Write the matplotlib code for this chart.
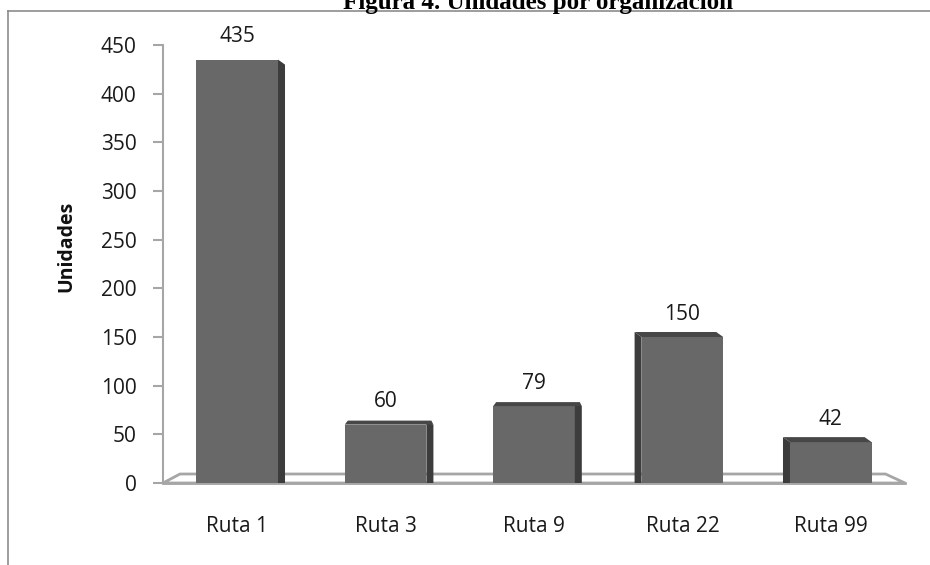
import matplotlib
matplotlib.use("Agg")
import matplotlib.pyplot as plt
from matplotlib.patches import Polygon
from matplotlib.lines import Line2D

categories = ["Ruta 1", "Ruta 3", "Ruta 9", "Ruta 22", "Ruta 99"]
values = [435, 60, 79, 150, 42]
yticks = [0, 50, 100, 150, 200, 250, 300, 350, 400, 450]
title = "Figura 4. Unidades por organización"
ylabel = "Unidades"

W, H = 930, 565
fig = plt.figure(figsize=(W / 100, H / 100), dpi=100)
font = "Open Sans"

# axes placement in pixels
ax_l, ax_r, ax_t, ax_b = 163, 905, 45, 483
ax = fig.add_axes([ax_l / W, (H - ax_b) / H, (ax_r - ax_l) / W, (ax_b - ax_t) / H])
ax.set_xlim(-0.5, len(categories) - 0.5)
ax.set_ylim(0, 450)

pxx = (len(categories)) / (ax_r - ax_l)   # data units per pixel (x)
pxy = 450 / (ax_b - ax_t)                 # data units per pixel (y)

front = "#686868"
side = "#3c3c3c"
topc = "#474747"
grey = "#a6a6a6"
txt = "#1a1a1a"

# floor (3D base plane)
x0, x1 = -0.5, len(categories) - 0.5
fx = 17 * pxx
fy = 9 * pxy
floor = Polygon([(x0, 0), (x0 + fx, fy), (x1 - fx * 1.15, fy), (x1, 0)],
                closed=True, facecolor="white", edgecolor=grey, lw=2, zorder=1,
                clip_on=False)
ax.add_patch(floor)

bw = 0.55
bars = ax.bar(range(len(categories)), values, width=bw, color=front,
              edgecolor="none", zorder=3)

dx = 7 * pxx
dy = 5 * pxy
for i, (b, v) in enumerate(zip(bars, values)):
    l = b.get_x()
    r = l + b.get_width()
    if i == 0:
        sidep = Polygon([(r, v), (r + dx, v - dy), (r + dx, 0), (r, 0)],
                        closed=True, facecolor=side, edgecolor="none", zorder=3)
        ax.add_patch(sidep)
    elif i <= 2:
        sidep = Polygon([(r, v + 2 * pxy), (r + dx, v), (r + dx, 0), (r, 0)],
                        closed=True, facecolor=side, edgecolor="none", zorder=3)
        topp = Polygon([(l, v), (l + 3 * pxx, v + 4 * pxy), (r + dx - 2 * pxx, v + 4 * pxy),
                        (r + dx, v), (r, v)],
                       closed=True, facecolor=topc, edgecolor="none", zorder=3)
        ax.add_patch(sidep)
        ax.add_patch(topp)
    else:
        sidep = Polygon([(l - dx, v + dy), (l, v), (l, 0), (l - dx, 0)],
                        closed=True, facecolor=side, edgecolor="none", zorder=3)
        topp = Polygon([(l - dx, v + dy), (r - dx, v + dy), (r, v), (l, v)],
                       closed=True, facecolor=topc, edgecolor="none", zorder=3)
        ax.add_patch(sidep)
        ax.add_patch(topp)
    ax.annotate(str(v), (i, v), xytext=(0, 9), textcoords="offset points",
                ha="center", va="bottom", fontsize=15, family=font, color=txt)

for s in ["top", "right"]:
    ax.spines[s].set_visible(False)
ax.spines["left"].set_color(grey)
ax.spines["left"].set_linewidth(1.5)
ax.spines["bottom"].set_color(grey)
ax.spines["bottom"].set_linewidth(2)
ax.spines["bottom"].set_zorder(0)

ax.set_yticks(yticks)
ax.set_yticklabels([str(t) for t in yticks], fontsize=15, family=font, color=txt)
ax.tick_params(axis="y", direction="out", length=7, width=1.5, color=grey, pad=12)
ax.set_xticks(range(len(categories)))
ax.set_xticklabels(categories, fontsize=15, family=font, color=txt)
ax.tick_params(axis="x", length=0, pad=24)

fig.text(66 / W, 1 - 246 / H, ylabel, rotation=90, ha="center", va="center",
         fontsize=14, fontweight="bold", family=font, color="#111111")

fig.text(538 / W, 1 - 9 / H, title, ha="center", va="baseline",
         fontsize=18, fontweight="bold", family="Liberation Serif", color="black")

# outer frame (top and left edges)
fig.add_artist(Line2D([8 / W, 1], [1 - 11 / H, 1 - 11 / H], color="#8c8c8c", lw=1.2,
                      transform=fig.transFigure))
fig.add_artist(Line2D([8 / W, 8 / W], [0, 1 - 11 / H], color="#8c8c8c", lw=1.2,
                      transform=fig.transFigure))

fig.savefig("out.png", dpi=100)
